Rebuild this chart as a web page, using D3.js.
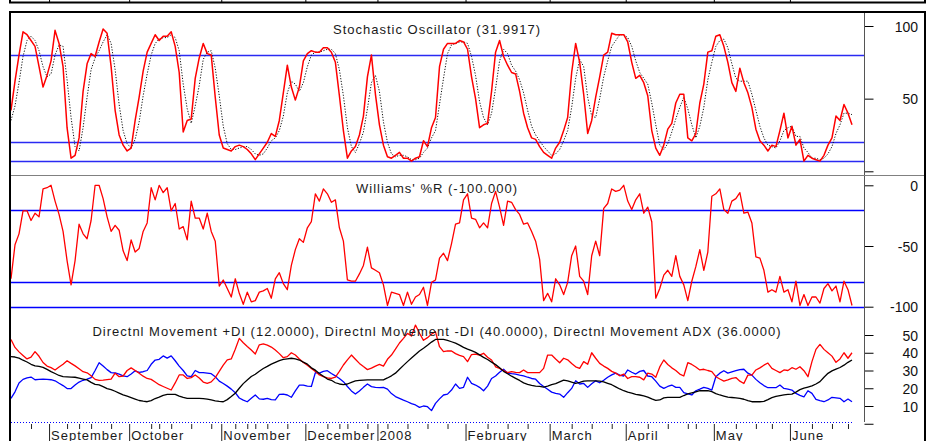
<!DOCTYPE html>
<html>
<head>
<meta charset="utf-8">
<script src="https://cdn.jsdelivr.net/npm/d3@7"></script>
<style>
body { margin: 0; background: #fff; }
svg { display: block; font-family: "Liberation Sans", Arial, sans-serif; }
</style>
</head>
<body>
<div id="chart"></div>
<script>
// Indicator panels under a daily price chart, Aug 2007 - Jun 2008
// one value per trading day

var months = ["September", "October", "November", "December", "2008", "February", "March", "April", "May", "June"];
var monthStartDay = [10, 30, 53, 74, 92, 114, 135, 154, 176, 195];
var weekTickDays = [5, 14, 17, 20, 25, 35, 37, 40, 45, 50, 56, 59, 61, 64, 69, 79, 82, 84, 89, 94, 99, 104, 109,
    119, 124, 129, 140, 145, 150, 159, 164, 169, 171, 181, 186, 190, 200, 205, 209];

var stochK = [42,62,80,96,94,90,86,72,58,66, 76,97,88,72,30,9,11,23,55,74,
    81,79,89,98,95,72,42,25,18,14, 16,35,51,69,82,88,94,90,93,93,
    96,86,68,27,35,36,64,78,88,81, 80,51,25,16,15,14,17,18,17,15,
    12,8,12,16,20,26,24,35,54,73, 58,49,58,76,81,83,82,82,85,85,
    82,75,52,28,9,14,17,25,38,65, 80,53,32,18,10,9,11,13,9,9,
    7,9,10,21,17,30,37,72,84,88, 88,88,90,89,84,65,50,30,32,33,
    55,82,90,79,73,68,67,55,40,30, 23,22,17,13,11,9,16,20,28,37,
    68,88,75,53,26,35,51,65,80,82, 95,94,94,94,89,75,64,66,61,52,
    28,16,11,18,29,33,47,53,53,23, 21,26,47,60,82,83,93,94,86,75,
    61,55,71,61,54,44,29,21,18,14, 18,17,28,40,23,31,18,22,7,11,
    9,8,7,11,18,23,38,35,46,40, 32];

var stochD = [35,45,61,79,90,93,90,83,72,65, 67,80,87,86,63,37,17,14,30,51,
    70,78,83,89,94,88,70,46,28,19, 16,22,34,52,67,80,88,91,92,92,
    94,92,83,60,43,33,45,59,77,82, 83,71,52,31,19,15,15,16,17,17,
    15,12,11,12,16,21,23,28,38,54, 62,60,55,61,72,80,82,82,83,84,
    84,81,70,52,30,17,13,19,27,43, 61,66,55,34,20,12,10,11,11,10,
    8,8,9,13,16,23,28,46,64,81, 87,88,89,89,88,79,66,48,37,32,
    40,57,76,84,81,73,69,63,54,42, 31,25,21,17,14,11,12,15,21,28,
    44,64,77,72,51,38,37,50,65,76, 86,90,94,94,92,86,76,68,64,60,
    47,32,18,15,19,27,36,44,51,43, 32,23,31,44,63,75,86,90,91,85,
    74,64,62,62,62,53,42,31,23,18, 17,16,21,28,30,31,24,24,16,13,
    9,9,8,9,12,17,26,32,40,40, 39];

var williamsR = [-77,-49,-40,-21,-21,-29,-23,-26,-3,-2, 0,-13,-24,-38,-62,-82,-62,-32,-40,-44,
    -29,0,0,-11,-26,-38,-33,-37,-54,-62, -45,-55,-52,-38,-31,-2,-12,0,-6,-2,
    -21,-15,-36,-34,-45,-13,-27,-27,-36,-23, -38,-46,-83,-78,-85,-92,-77,-89,-98,-88,
    -96,-95,-88,-87,-85,-93,-77,-72,-81,-86, -66,-53,-44,-47,-35,-30,-7,-13,-3,-7,
    -14,-12,-35,-46,-78,-79,-79,-73,-66,-51, -68,-70,-72,-82,-99,-88,-89,-90,-99,-88,
    -98,-92,-90,-84,-99,-80,-78,-60,-56,-62, -48,-32,-31,-12,-7,-27,-28,-35,-31,-35,
    -15,-5,-18,-33,-13,-14,-20,-24,-32,-31, -38,-46,-61,-95,-89,-96,-77,-82,-90,-80,
    -58,-50,-75,-79,-90,-58,-46,-58,-19,-15, -3,-5,-4,0,-13,-20,-12,-7,-23,-18,
    -30,-93,-85,-74,-70,-75,-58,-75,-82,-95, -79,-67,-53,-70,-55,-9,-7,-3,-20,-23,
    -13,-11,-6,-23,-22,-31,-59,-60,-70,-88, -86,-88,-75,-88,-86,-96,-79,-99,-90,-99,
    -92,-92,-97,-85,-81,-87,-83,-96,-79,-86, -99];

var plusDI = [14.3,18,23,25,25.8,26.3,24.8,25,25.1,25, 24.8,24.2,22.8,21.5,19.8,19.8,21.8,23.5,24.5,25.1,
    26,30,34.4,32.5,30.5,28.8,28.6,28,27,26.5, 28,29.8,29,29.3,30,33.5,35.9,36.3,38.2,37,
    38.2,35.5,32.5,30,27,26.5,30,28.8,28.8,28.5, 28.2,26.5,24,22.7,21.2,19.5,17.5,14.5,13.3,12.4,
    14.3,16.2,14,13.8,14.3,13.6,13.5,16.5,16.7,16.2, 14.9,18.5,21.8,21.8,21.2,21,28.8,28.5,29.5,29.9,
    28.3,27,25.5,23.7,21,18.5,16.7,18.5,20.5,22.4, 20.9,20.5,20.3,20.5,19.5,17,15.3,14.3,13.3,12.4,
    11.3,10.6,9.2,10,9.6,7.4,11.5,14,16.2,16.7, 19,22.4,19.9,20.5,26.2,22.7,21.8,20.5,18.6,21.2,
    25.5,26.9,29,30.7,28.5,28.2,28,27.4,27,26.2, 25.5,25.1,22.7,21,19.4,17.8,17.1,16.7,14.9,17.5,
    19.9,24.2,22.4,22.7,20.5,22.5,24.2,23.1,24.5,26.2, 27.5,28.5,27.4,26.9,30.3,29,28,29.5,30,26.9,
    26.5,24,21.2,19.9,21,21.8,20.5,20.5,17.5,16.8, 16.2,18.6,19.5,20.5,19.9,19,26.5,28.5,29.9,28.5,
    29.2,29.9,30.5,30.7,28.5,27.4,25,23.1,21.5,20.3, 20.3,20.3,21.8,19.9,19.5,19,17.1,16,15.2,18.6,
    17.1,13.7,13,12.4,13.4,14.9,14.6,14.3,12.4,13.9, 12.4];

var minusDI = [47.5,43,40.5,38.5,36.5,37.5,40.6,38,34.5,32.5, 31.6,30.3,32,33.5,35.5,34,32.6,31,29.3,28.7,
    27,25,24.4,24.6,24.9,25.2,28.5,26.5,26.9,30, 31.5,30,28.5,26.8,25.5,25,23.5,22,21,20,
    19,23,27.5,27.5,25.5,26,27.5,25.8,23.5,22.8, 23.6,26,29.5,33,36,36.5,42,48.1,45.6,43.5,
    41.5,39.3,44.5,45,44.3,43.2,41.5,39.5,37.2,37.8, 40,38.7,36.5,34.5,33,31.2,29.5,27.5,26.5,25.8,
    25.5,26.3,29.5,33.1,36,38.7,36.3,34,32.2,30.5, 31.3,32.5,33.4,32.5,36.3,38.7,42,45.5,48.1,50.9,
    49.4,55.6,51,47,48.5,50.5,51.8,43.4,40.6,41, 41,39.5,38.5,37.8,35,39,39.2,38.7,39.7,37.5,
    35.9,32.1,31.2,30,28.8,29.4,29,28.8,30.3,28.8, 28.8,28.8,28.8,31.2,38.7,38.7,36.5,34.4,36.9,36,
    34,32.1,31.2,35,33.5,40,36.9,34,32.5,31.2, 29.5,28.5,27,28,25.5,26.5,26.5,26.2,24.7,28.5,
    28,26.2,32,35.9,33.4,31.5,30,28,26.9,34.4, 33.4,32,30.3,30.7,30,29.4,26.5,25.2,24,24.7,
    25.5,26,24,22.7,27.4,27.4,30.3,31.5,33,34.2, 31.2,30,28.8,30.3,30,31.6,30.7,32.1,29.9,26.5,
    35,41.9,44.7,41.9,40,38.1,34.6,36.5,40,36.9, 40];

var adx = [37.8,37.6,37,35.8,34.8,33.5,32.6,32.3,31.8,30.6, 29.4,28.3,27.2,26.5,26.4,26.3,26.2,25.7,25.2,24.7,
    23.3,22.2,21.9,20.9,19.8,19.2,18.3,17.3,16.3,15.5, 14.7,13.9,13.1,12.7,12.4,13,14.2,15,16,16.6,
    16.6,16.6,15.6,14.8,14.3,14.3,14.3,14.3,14.1,13.9, 13.4,12.9,12.6,12.4,13.6,15.3,17.2,20,22.6,24.6,
    26.6,27.9,29.6,31.1,32.3,33.6,34.6,35.6,36.3,36.6, 36.9,36.5,35.9,34.7,33.6,31.5,30.2,28.3,26.8,25.2,
    24.5,23.1,22.4,22,22.4,23.3,24.1,24.4,24.6,24.7, 24.7,24.7,24.7,24.7,25.8,27,28.5,30.7,32.9,35,
    37,39,41,42.5,44.2,46,47.5,47.5,47.5,47, 46.2,45.4,44.3,43,42,41.2,40.2,38.8,37.4,36.2,
    34.7,33.3,31.6,29.5,28.2,26.8,25.6,24.4,23,22.2, 21.6,21.2,21,20.6,21.2,22,22.6,23.6,24.6,24.2,
    23.4,22.7,23.3,24,24.2,24.2,24.1,24,23.6,22.8, 22,20.8,19.6,18.6,17.8,17.2,16.6,16.2,15.7,15,
    14,13.2,13.4,14.6,14.9,14.9,14.9,14.9,15.9,16.8, 17.4,18,18.6,18.6,18.6,18.1,17,16.2,15.6,15,
    14.8,14.6,14.3,13.8,13,12.4,12.4,12.4,12.6,13.6, 14.7,15.4,15.9,16.3,16.5,16.7,17.8,19.2,20.1,20.7,
    21.3,22.4,23.7,26.2,28.4,29.8,30.8,31.7,33,34.6, 35.9];

var stochLevels = [80, 20, 7.3];
var williamsLevels = [-20, -80, -100];
var stochLabels = [100, 50];
var williamsLabels = [0, -50, -100];
var dmiLabels = [50, 40, 30, 20, 10];

var stochTitle = "Stochastic Oscillator (31.9917)";
var williamsTitle = "Williams' %R (-100.000)";
var dmiTitle = "Directnl Movement +DI (12.0000), Directnl Movement -DI (40.0000), Directnl Movement ADX (36.0000)";

// Set up chart
var svgWidth = 932;
var svgHeight = 441;
var frameLeft = 10;
var axisX = 864;
var frameRight = 925;
var labelX = 918;

var svg = d3.select("#chart")
    .append("svg")
    .attr("width", svgWidth)
    .attr("height", svgHeight);

var xScale = d3.scaleLinear()
    .domain([0, stochK.length - 1])
    .range([11, 852]);

var yStoch = d3.scaleLinear().domain([0, 100]).range([171.3, 26]);
var yWill = d3.scaleLinear().domain([-100, 0]).range([306.7, 185.3]);
var yDmi = d3.scaleLinear().domain([0, 50]).range([423.75, 335]);

// piece of the price panel above, cut off
var strip = svg.append("g");
strip.append("line")
    .attr("x1", frameLeft - 1).attr("x2", frameRight + 1)
    .attr("y1", 2.5).attr("y2", 2.5)
    .attr("stroke", "#000").attr("stroke-width", 2);
strip.selectAll(".sep")
    .data(monthStartDay)
    .enter()
    .append("line")
    .attr("x1", d => xScale(d) - 1.5).attr("x2", d => xScale(d) - 1.5)
    .attr("y1", 0).attr("y2", 3)
    .attr("stroke", "#000");

// horizontal level lines, snapped to the pixel grid
function levels(vals, y, color, width) {
    svg.append("g").selectAll("line")
        .data(vals)
        .enter()
        .append("line")
        .attr("x1", frameLeft).attr("x2", axisX)
        .attr("y1", d => Math.round(y(d)) + 0.5).attr("y2", d => Math.round(y(d)) + 0.5)
        .attr("stroke", color)
        .attr("stroke-width", width);
}
levels(stochLevels, yStoch, "#2a2af2", 1.6);
levels(williamsLevels, yWill, "#0000ff", 1.4);

// line helper
function drawLine(vals, y, color, width, dash) {
    var line = d3.line()
        .x((d, i) => xScale(i))
        .y(d => y(d));
    svg.append("path")
        .datum(vals)
        .attr("d", line)
        .attr("fill", "none")
        .attr("stroke", color)
        .attr("stroke-width", width)
        .attr("stroke-linejoin", "round")
        .attr("stroke-dasharray", dash || null);
}

drawLine(stochD, yStoch, "#111", 1, "1.2,1.6");
drawLine(stochK, yStoch, "#ff0000", 1.5);
drawLine(williamsR, yWill, "#ff0000", 1.3);
drawLine(plusDI, yDmi, "#0000ff", 1.3);
drawLine(minusDI, yDmi, "#ff0000", 1.3);
drawLine(adx, yDmi, "#000", 1.3);

// right axes
function rightAxis(y, minor, major) {
    var g = svg.append("g").attr("transform", `translate(${axisX + 0.5},0)`);
    g.call(d3.axisRight(y).tickValues(minor).tickSize(5).tickFormat(""));
    g.call(d3.axisRight(y).tickValues(major).tickSize(9).tickFormat(""));
    g.selectAll(".domain").remove();
    g.selectAll("line").attr("stroke", "#000");
}
rightAxis(yStoch, d3.range(0, 101, 10), [0, 50, 100]);
rightAxis(yWill, d3.range(-100, 1, 10), [-100, -50, 0]);
rightAxis(yDmi, d3.range(5, 56, 10), d3.range(0, 51, 10));

svg.append("line")
    .attr("x1", axisX + 0.5).attr("x2", axisX + 0.5)
    .attr("y1", 13).attr("y2", 422)
    .attr("stroke", "#555");

function axisLabels(vals, y) {
    svg.append("g").selectAll("text")
        .data(vals)
        .enter()
        .append("text")
        .attr("x", labelX)
        .attr("y", d => y(d) + 5.5)
        .attr("text-anchor", "end")
        .style("font-size", "14px")
        .attr("fill", "#111")
        .text(d => d);
}
axisLabels(stochLabels, yStoch);
axisLabels(williamsLabels, yWill);
axisLabels(dmiLabels, yDmi);

// titles
function title(t, y) {
    svg.append("text")
        .attr("x", (frameLeft + axisX) / 2)
        .attr("y", y)
        .attr("text-anchor", "middle")
        .style("font-size", "13px")
        .style("letter-spacing", "1px")
        .attr("fill", "#1a1a1a")
        .text(t);
}
title(stochTitle, 33.5);
title(williamsTitle, 192.5);
title(dmiTitle, 336);

// panel separator
svg.append("line")
    .attr("x1", frameLeft).attr("x2", frameRight)
    .attr("y1", 175.5).attr("y2", 175.5)
    .attr("stroke", "#808080");

// bottom time axis
svg.append("line")
    .attr("x1", 11).attr("x2", 853)
    .attr("y1", 422.5).attr("y2", 422.5)
    .attr("stroke", "#0000ff")
    .attr("stroke-dasharray", "1,2");

svg.append("g").selectAll("line")
    .data(weekTickDays)
    .enter()
    .append("line")
    .attr("x1", d => xScale(d) + 0.5).attr("x2", d => xScale(d) + 0.5)
    .attr("y1", 424).attr("y2", 429)
    .attr("stroke", "#222");

var monthG = svg.append("g").selectAll("g")
    .data(monthStartDay)
    .enter()
    .append("g");
monthG.append("line")
    .attr("x1", d => xScale(d) - 1.5).attr("x2", d => xScale(d) - 1.5)
    .attr("y1", 424).attr("y2", 441)
    .attr("stroke", "#222");
monthG.append("text")
    .attr("x", d => xScale(d))
    .attr("y", 439.5)
    .style("font-size", "13px")
    .style("letter-spacing", "1px")
    .attr("fill", "#1a1a1a")
    .text((d, i) => months[i]);

// outer frame
svg.append("path")
    .attr("d", `M${frameLeft},441 V12 H${frameRight} V441`)
    .attr("fill", "none")
    .attr("stroke", "#000")
    .attr("stroke-width", 2);
svg.append("line")
    .attr("x1", frameLeft).attr("x2", frameLeft)
    .attr("y1", 0).attr("y2", 3)
    .attr("stroke", "#000").attr("stroke-width", 2);
svg.append("line")
    .attr("x1", frameRight).attr("x2", frameRight)
    .attr("y1", 0).attr("y2", 3)
    .attr("stroke", "#000").attr("stroke-width", 2);
</script>
</body>
</html>
